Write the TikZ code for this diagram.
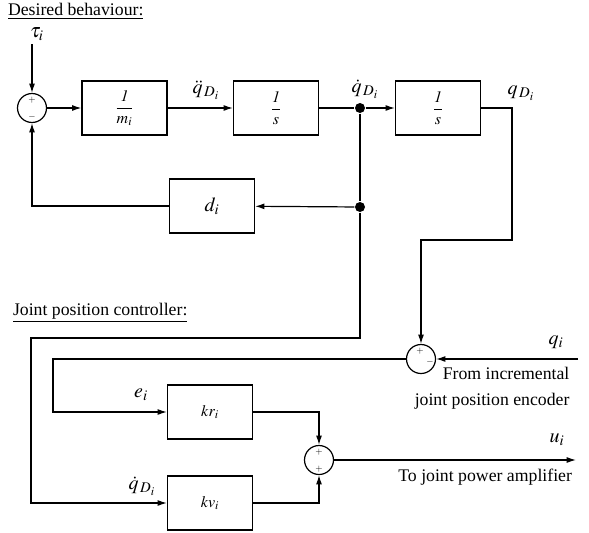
\documentclass[tikz,border=0pt]{standalone}
\usepackage{mathptmx}
\usepackage[no-math]{fontspec}
\setmainfont{Liberation Serif}
\usetikzlibrary{arrows.meta,positioning}

\begin{document}
\begin{tikzpicture}[
  x=0.75pt,y=-0.75pt,line width=0.9pt,
  every node/.style={font=\fontsize{13.3}{15}\selectfont},
  block/.style={draw,line width=0.9pt,minimum width=63.75pt,minimum height=40.5pt,inner sep=0pt,font=\fontsize{12}{13}\selectfont},
  sumnode/.style={circle,draw,line width=0.9pt,minimum size=21.75pt,inner sep=0pt},
  junction/.style={circle,fill=black,minimum size=7.5pt,inner sep=0pt},
  sign/.style={inner sep=0pt,font=\fontsize{7}{7}\selectfont},
  signal/.style={font=\fontsize{15}{16}\selectfont},
  arrow/.style={-{Latex[length=7pt,width=4.5pt]}}
]
  \useasboundingbox (0,0) rectangle (589,532);

  \node[anchor=west] (titleA) at (3,11) {\underline{Desired behaviour:}};
  \node[anchor=west] (titleB) at (8,313) {\underline{Joint position controller:}};

  \node[signal] (tau) at (37,34) {$\tau_i$};
  \coordinate (tin) at (32,44);
  \node[sumnode] (sumA) at (32,108) {};
  \node[sign] at (32,100) {$+$};
  \node[sign] at (32,117) {$-$};
  \node[block] (invm) at (124.5,108) {$\displaystyle\frac{\mathit{1}}{m_i}$};
  \node[block] (intA) at (276,108) {$\displaystyle\frac{\mathit{1}}{s}$};
  \node[junction] (dotA) at (360,108) {};
  \node[block] (intB) at (438,108) {$\displaystyle\frac{\mathit{1}}{s}$};
  \node[block,font=\fontsize{15}{16}\selectfont] (dmp) at (212,206) {$d_i$};
  \node[junction] (dotB) at (360,207) {};

  \node[signal] at (206,90) {$\ddot{q}_{\,D_i}$};
  \node[signal] at (365,89) {$\dot{q}_{\,D_i}$};
  \node[signal] at (521,93) {$q_{\,D_i}$};

  \draw[arrow] (tin) -- (sumA);
  \draw[arrow] (sumA) -- (invm);
  \draw[arrow] (invm) -- (intA);
  \draw (intA) -- (dotA);
  \draw[arrow] (dotA) -- (intB);
  \draw (dotA) -- (dotB);
  \draw[arrow] (dotB) -- (dmp);
  \draw[arrow] (dmp.west) -| (sumA.south);

  \coordinate (qbend) at (512,240);
  \coordinate (qin) at (578,359);
  \coordinate (ebend) at (53,359);
  \coordinate (vbend) at (31,338);
  \coordinate (uout) at (576,460);

  \node[sumnode] (sumB) at (421,359) {};
  \node[sign] at (420,351) {$+$};
  \node[sign] at (430,362) {$-$};
  \node[block] (kr) at (210,412) {$kr_i$};
  \node[block] (kv) at (210,503) {$kv_i$};
  \node[sumnode] (sumC) at (319,460) {};
  \node[sign] at (319,452) {$+$};
  \node[sign] at (319,469) {$+$};

  \node[signal] at (556,342) {$q_i$};
  \node[align=right,anchor=north east,inner sep=0pt,font=\fontsize{13.3}{19}\selectfont] (enc) at (570,367) {From incremental\\joint position encoder};
  \node[signal] at (141,395) {$e_i$};
  \node[signal] at (142,486) {$\dot{q}_{\,D_i}$};
  \node[signal] at (557,440) {$u_i$};
  \node[anchor=east] (amp) at (577,477) {To joint power amplifier};

  \draw[arrow] (intB.east) -| (qbend) -| (sumB.north);
  \draw[arrow] (qin) -- (sumB.east);
  \draw[arrow] (sumB.west) -- (ebend) |- (kr.west);
  \draw[arrow] (dotB) |- (vbend) |- (kv.west);
  \draw[arrow] (kr.east) -| (sumC.north);
  \draw[arrow] (kv.east) -| (sumC.south);
  \draw[arrow] (sumC.east) -- (uout);
\end{tikzpicture}
\end{document}
